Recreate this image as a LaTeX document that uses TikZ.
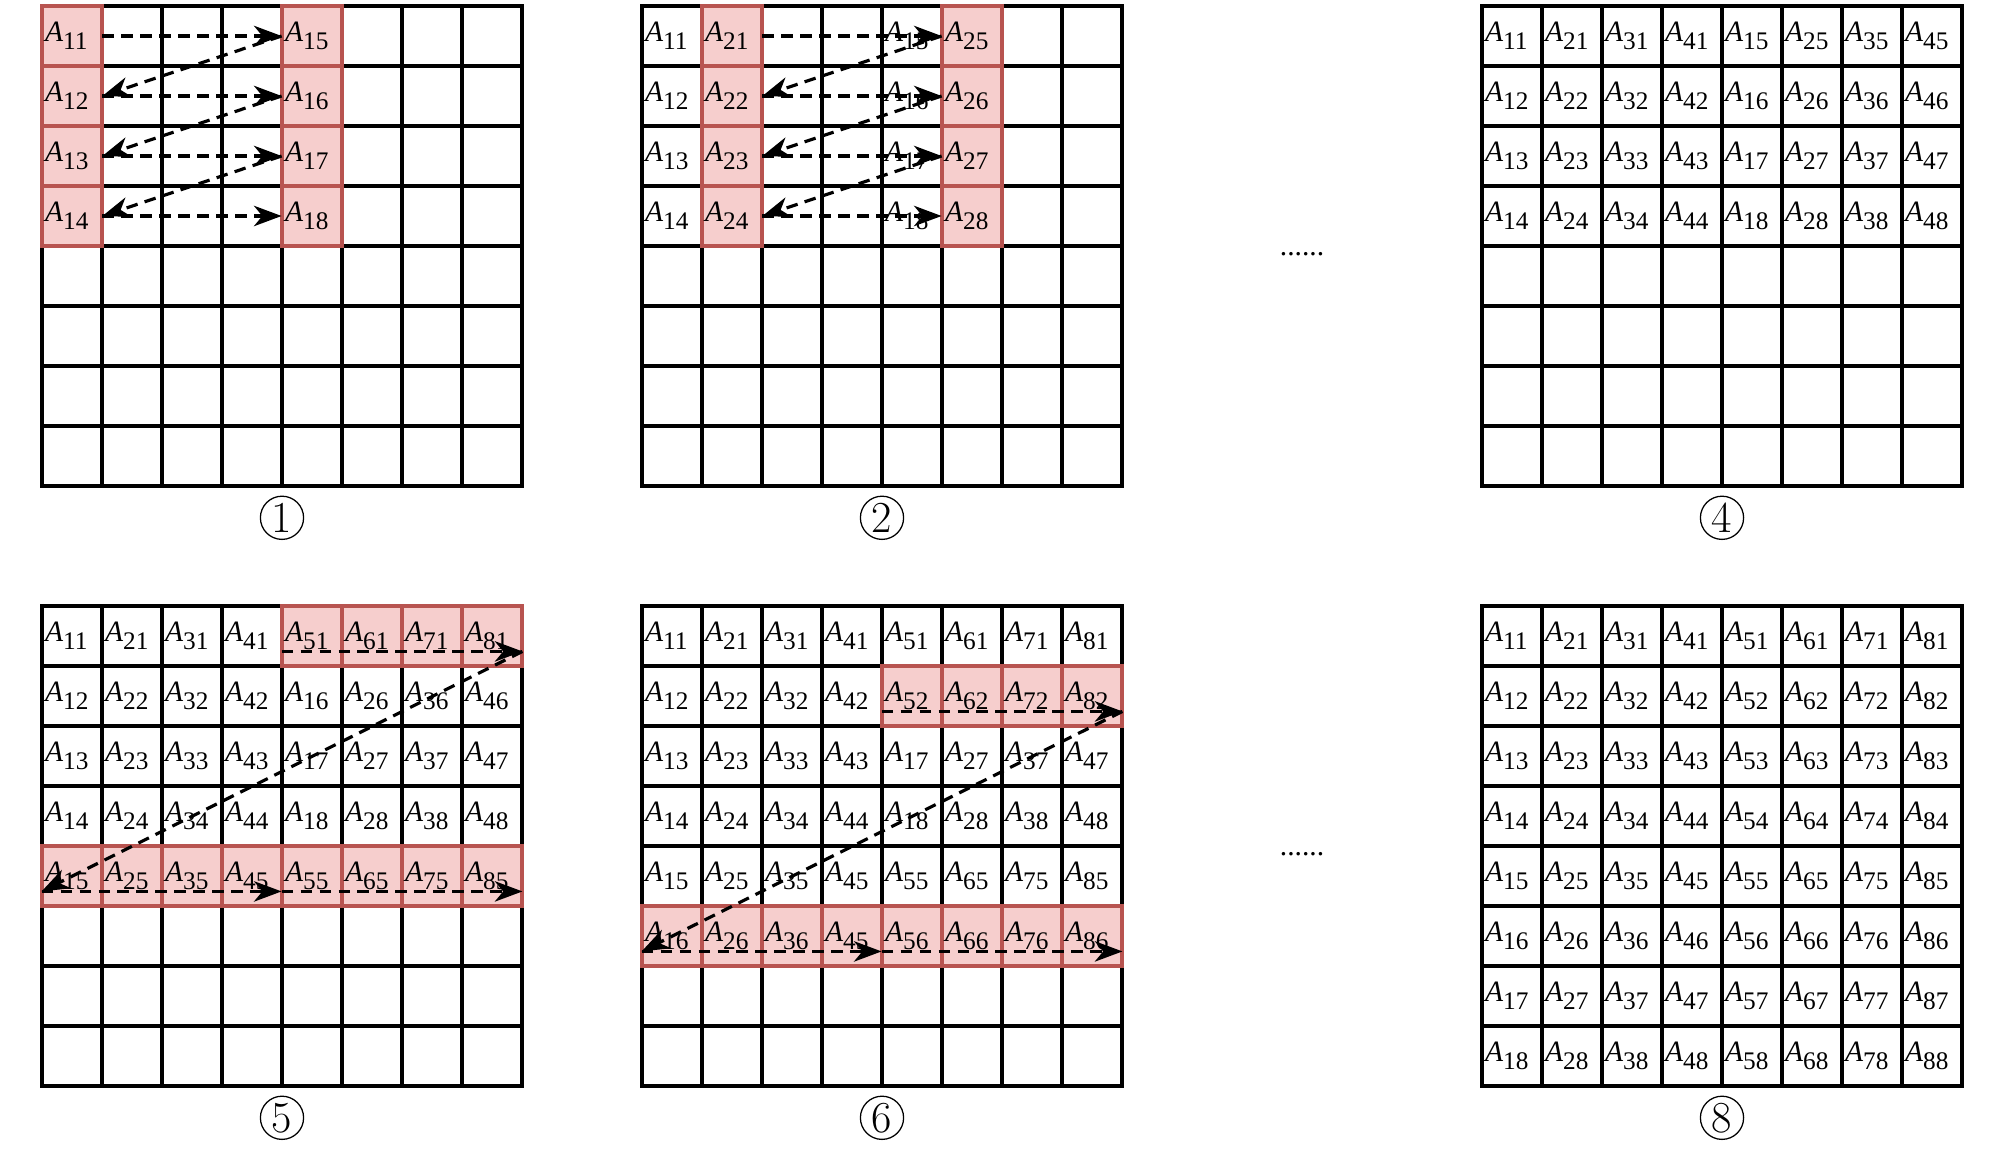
\documentclass[tikz,border=0pt]{standalone}
\usepackage{fontspec}
\usepackage{tikz}
\usetikzlibrary{arrows.meta}
\newfontfamily\tnr{Liberation Serif}
\definecolor{cellpink}{RGB}{246,206,205}
\definecolor{cellred}{RGB}{184,84,80}
\newcommand{\Aij}[1]{\textit{A}\raisebox{-4pt}{\fontsize{12}{13}\selectfont #1}}

\begin{document}
\begin{tikzpicture}
    \tikzstyle{cell}=[minimum size=1cm, inner sep=0pt, text width=0.9cm, align=left, font=\tnr\fontsize{14}{16}\selectfont]
    \tikzstyle{grid line}=[line width=1.6pt, line cap=rect]
    \tikzstyle{marked}=[fill=cellpink, draw=cellred, line width=1.6pt]
    \tikzstyle{scan}=[dashed, dash pattern=on 5.5pt off 3.5pt, line width=1.5pt, -{Stealth[length=0.46cm, width=0.34cm, inset=0.14cm]}]
    \tikzstyle{step no}=[circle, draw, line width=0.6pt, minimum size=0.72cm, inner sep=0pt, font=\fontsize{21}{21}\selectfont]
    \tikzstyle{more}=[font=\tnr\fontsize{14}{14}\selectfont]

    \useasboundingbox (0,0) rectangle (33.4,-19.15);

    % Step 1: columns 1 and 5
    \begin{scope}[shift={(0.7,-8.1)}]
    \draw[grid line] (0,0) grid (8,8);
    \foreach \i in {1,5} \foreach \j in {1,...,4} \draw[marked] (\i-1,8-\j) rectangle ++(1,1);
    \foreach \j in {1,...,4} {
        \pgfmathtruncatemacro\k{\j+4}
        \node[cell] (p1-1-\j) at (0.5,8.5-\j) {\Aij{1\j}};
        \node[cell] (p1-5-\j) at (4.5,8.5-\j) {\Aij{1\k}};
    }
    \foreach \j in {1,...,4} \draw[scan] (p1-1-\j.east) -- (p1-5-\j.west);
    \foreach \j/\k in {1/2,2/3,3/4} \draw[scan] (p1-5-\j.west) -- (p1-1-\k.east);
    \node[step no] (s1) at (4,-0.53) {1};
    \end{scope}

    % Step 2: columns 2 and 6
    \begin{scope}[shift={(10.7,-8.1)}]
    \draw[grid line] (0,0) grid (8,8);
    \foreach \i in {2,6} \foreach \j in {1,...,4} \draw[marked] (\i-1,8-\j) rectangle ++(1,1);
    \foreach \j in {1,...,4} {
        \pgfmathtruncatemacro\k{\j+4}
        \node[cell] (p2-1-\j) at (0.5,8.5-\j) {\Aij{1\j}};
        \node[cell] (p2-2-\j) at (1.5,8.5-\j) {\Aij{2\j}};
        \node[cell] (p2-5-\j) at (4.5,8.5-\j) {\Aij{1\k}};
        \node[cell] (p2-6-\j) at (5.5,8.5-\j) {\Aij{2\k}};
    }
    \foreach \j in {1,...,4} \draw[scan] (p2-2-\j.east) -- (p2-6-\j.west);
    \foreach \j/\k in {1/2,2/3,3/4} \draw[scan] (p2-6-\j.west) -- (p2-2-\k.east);
    \node[step no] (s2) at (4,-0.53) {2};
    \end{scope}

    \node[more] (gap-a) at (21.7,-4.23) {......};

    % Step 4
    \begin{scope}[shift={(24.7,-8.1)}]
    \draw[grid line] (0,0) grid (8,8);
    \foreach \r [count=\j] in {{11,21,31,41,15,25,35,45},{12,22,32,42,16,26,36,46},
                               {13,23,33,43,17,27,37,47},{14,24,34,44,18,28,38,48}}
        \foreach \t [count=\i] in \r
            \node[cell] (p4-\i-\j) at (\i-0.5,8.5-\j) {\Aij{\t}};
    \node[step no] (s4) at (4,-0.53) {4};
    \end{scope}

    % Step 5: row 1 (right half) and row 5
    \begin{scope}[shift={(0.7,-18.1)}]
    \draw[grid line] (0,0) grid (8,8);
    \foreach \i in {5,...,8} \draw[marked] (\i-1,7) rectangle ++(1,1);
    \foreach \i in {1,...,8} \draw[marked] (\i-1,3) rectangle ++(1,1);
    \foreach \r [count=\j] in {{11,21,31,41,51,61,71,81},{12,22,32,42,16,26,36,46},
                               {13,23,33,43,17,27,37,47},{14,24,34,44,18,28,38,48},
                               {15,25,35,45,55,65,75,85}}
        \foreach \t [count=\i] in \r
            \node[cell] (p5-\i-\j) at (\i-0.5,8.5-\j) {\Aij{\t}};
    \draw[scan] ([yshift=0.25cm]p5-5-1.south west) -- ([yshift=0.25cm]p5-8-1.south east);
    \draw[scan] ([yshift=0.25cm]p5-8-1.south east) -- ([yshift=0.25cm]p5-1-5.south west);
    \draw[scan] ([yshift=0.25cm]p5-1-5.south west) -- ([yshift=0.25cm]p5-5-5.south west);
    \draw[scan] ([yshift=0.25cm]p5-5-5.south west) -- ([yshift=0.25cm]p5-8-5.south east);
    \node[step no] (s5) at (4,-0.53) {5};
    \end{scope}

    % Step 6: row 2 (right half) and row 6
    \begin{scope}[shift={(10.7,-18.1)}]
    \draw[grid line] (0,0) grid (8,8);
    \foreach \i in {5,...,8} \draw[marked] (\i-1,6) rectangle ++(1,1);
    \foreach \i in {1,...,8} \draw[marked] (\i-1,2) rectangle ++(1,1);
    \foreach \r [count=\j] in {{11,21,31,41,51,61,71,81},{12,22,32,42,52,62,72,82},
                               {13,23,33,43,17,27,37,47},{14,24,34,44,18,28,38,48},
                               {15,25,35,45,55,65,75,85},{16,26,36,45,56,66,76,86}}
        \foreach \t [count=\i] in \r
            \node[cell] (p6-\i-\j) at (\i-0.5,8.5-\j) {\Aij{\t}};
    \draw[scan] ([yshift=0.25cm]p6-5-2.south west) -- ([yshift=0.25cm]p6-8-2.south east);
    \draw[scan] ([yshift=0.25cm]p6-8-2.south east) -- ([yshift=0.25cm]p6-1-6.south west);
    \draw[scan] ([yshift=0.25cm]p6-1-6.south west) -- ([yshift=0.25cm]p6-5-6.south west);
    \draw[scan] ([yshift=0.25cm]p6-5-6.south west) -- ([yshift=0.25cm]p6-8-6.south east);
    \node[step no] (s6) at (4,-0.53) {6};
    \end{scope}

    \node[more] (gap-b) at (21.7,-14.23) {......};

    % Step 8: all done
    \begin{scope}[shift={(24.7,-18.1)}]
    \draw[grid line] (0,0) grid (8,8);
    \foreach \i in {1,...,8} \foreach \j in {1,...,8}
        \node[cell] (p8-\i-\j) at (\i-0.5,8.5-\j) {\Aij{\i\j}};
    \node[step no] (s8) at (4,-0.53) {8};
    \end{scope}
\end{tikzpicture}
\end{document}
